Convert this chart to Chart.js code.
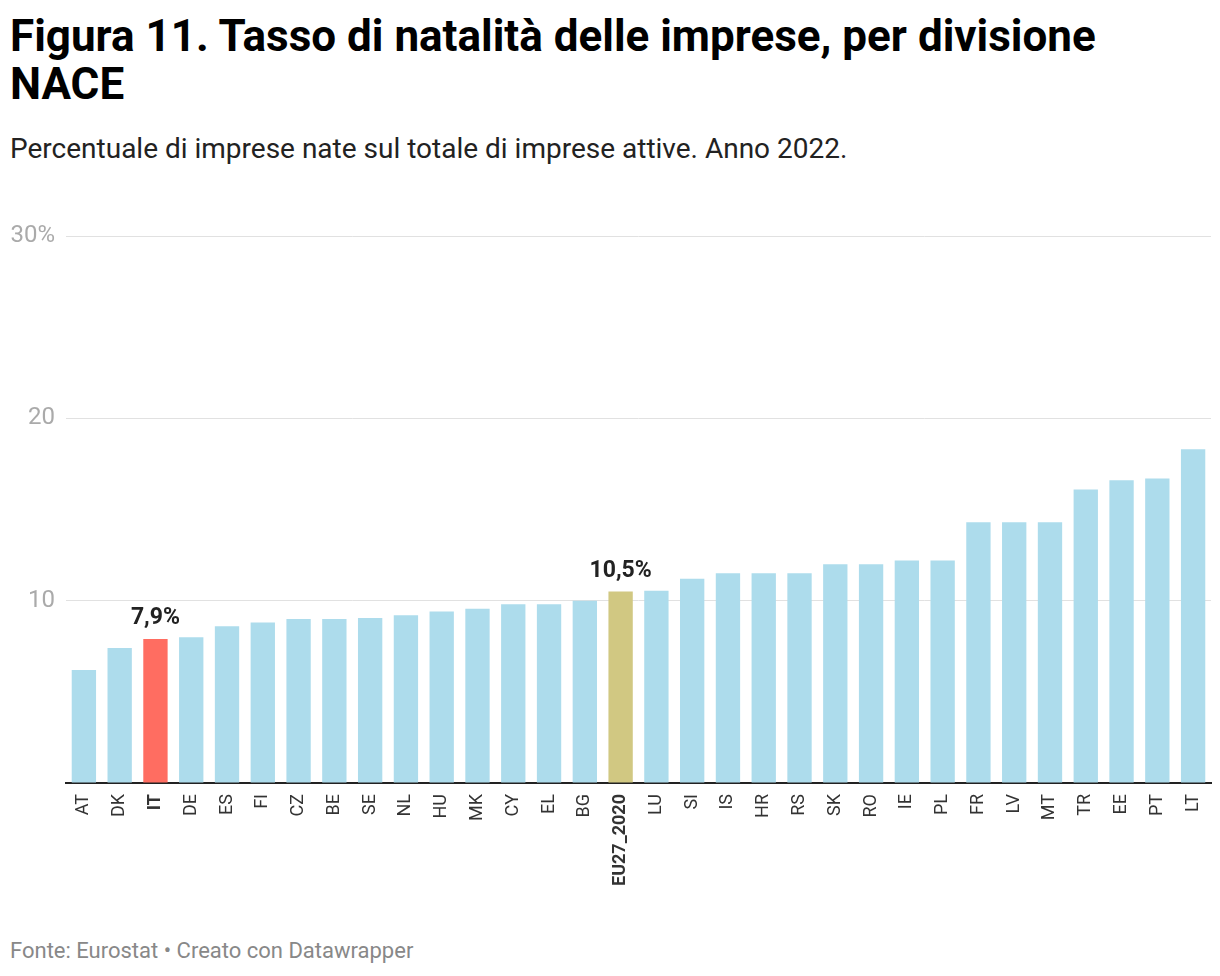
<!DOCTYPE html>
<html>
<head>
<meta charset="utf-8">
<script src="https://cdn.jsdelivr.net/npm/chart.js@4.4.1/dist/chart.umd.min.js"></script>
<style>
  body { margin: 0; background: #fff; font-family: Roboto, sans-serif; }
  #titolo { position: absolute; left: 10px; top: 12px; font-size: 44px; font-weight: 700; line-height: 48px; color: #000; }
  #sottotitolo { position: absolute; left: 10px; top: 132px; font-size: 28px; color: #222; }
  #fonte { position: absolute; left: 10px; top: 938px; font-size: 22px; color: #888; }
  #contenitore { position: absolute; left: 0; top: 200px; width: 1220px; height: 700px; }
</style>
</head>
<body>
<div id="titolo">Figura 11. Tasso di natalità delle imprese, per divisione<br>NACE</div>
<div id="sottotitolo">Percentuale di imprese nate sul totale di imprese attive. Anno 2022.</div>
<div id="contenitore"><canvas id="grafico"></canvas></div>
<div id="fonte">Fonte: Eurostat • Creato con Datawrapper</div>
<script>
var paesi = ['AT', 'DK', 'IT', 'DE', 'ES', 'FI', 'CZ', 'BE', 'SE', 'NL', 'HU', 'MK', 'CY', 'EL', 'BG', 'EU27_2020',
    'LU', 'SI', 'IS', 'HR', 'RS', 'SK', 'RO', 'IE', 'PL', 'FR', 'LV', 'MT', 'TR', 'EE', 'PT', 'LT']
var tasso = [6.2, 7.4, 7.9, 8.0, 8.6, 8.8, 9.0, 9.0, 9.05, 9.2, 9.4, 9.55, 9.8, 9.8, 10.0, 10.5,
    10.55, 11.2, 11.5, 11.5, 11.5, 12.0, 12.0, 12.2, 12.2, 14.3, 14.3, 14.3, 16.1, 16.6, 16.7, 18.3]
var tickY = [0, 10, 20, 30]
var evidenziati = { 'IT': '#ff6d61', 'EU27_2020': '#d1c882' }
var etichette = { 'IT': '7,9%', 'EU27_2020': '10,5%' }

var colori = paesi.map(function (p) { return evidenziati[p] || '#addcec' })

// scrive il valore sopra le barre evidenziate
var pluginEtichette = {
    id: 'etichette',
    afterDatasetsDraw: function (chart) {
        var ctx = chart.ctx
        var meta = chart.getDatasetMeta(0)
        ctx.save()
        ctx.font = 'bold 23px Roboto'
        ctx.fillStyle = '#222'
        ctx.textAlign = 'center'
        ctx.textBaseline = 'bottom'
        meta.data.forEach(function (barra, i) {
            var testo = etichette[paesi[i]]
            if (testo) ctx.fillText(testo, barra.x, barra.y - 9)
        })
        ctx.restore()
    }
}

new Chart(document.getElementById('grafico').getContext('2d'), {
    type: 'bar',
    data: {
        labels: paesi,
        datasets: [{
            data: tasso,
            backgroundColor: colori,
            categoryPercentage: 1,
            barPercentage: 0.68
        }]
    },
    options: {
        responsive: true,
        maintainAspectRatio: false,
        animation: false,
        layout: { padding: { left: 0, right: 9, top: 36, bottom: 0 } },
        plugins: { legend: { display: false }, tooltip: { enabled: false } },
        scales: {
            x: {
                afterFit: function (scala) {
                    scala.height = 117
                    scala.paddingLeft = 0
                    scala.paddingRight = 0
                },
                grid: { display: false, drawTicks: false },
                border: { color: '#222', width: 2 },
                ticks: {
                    minRotation: 90,
                    maxRotation: 90,
                    padding: 11,
                    autoSkip: false,
                    color: '#333',
                    font: function (c) {
                        var p = paesi[c.index]
                        return { family: 'Roboto', size: 18, weight: evidenziati[p] ? 'bold' : 'normal' }
                    }
                }
            },
            y: {
                min: 0,
                max: 30,
                afterBuildTicks: function (scala) {
                    scala.ticks = tickY.map(function (v) { return { value: v } })
                },
                afterFit: function (scala) { scala.width = 66 },
                border: { display: false },
                grid: {
                    drawTicks: false,
                    color: function (c) { return c.tick && c.tick.value === 0 ? 'rgba(0,0,0,0)' : '#e1e1e1' },
                    lineWidth: 1
                },
                ticks: {
                    padding: 11,
                    color: '#aaa',
                    font: { family: 'Roboto', size: 24 },
                    callback: function (v) {
                        if (v === 0) return ''
                        return v === 30 ? '30%' : String(v)
                    }
                }
            }
        }
    },
    plugins: [pluginEtichette]
});
</script>
</body>
</html>
